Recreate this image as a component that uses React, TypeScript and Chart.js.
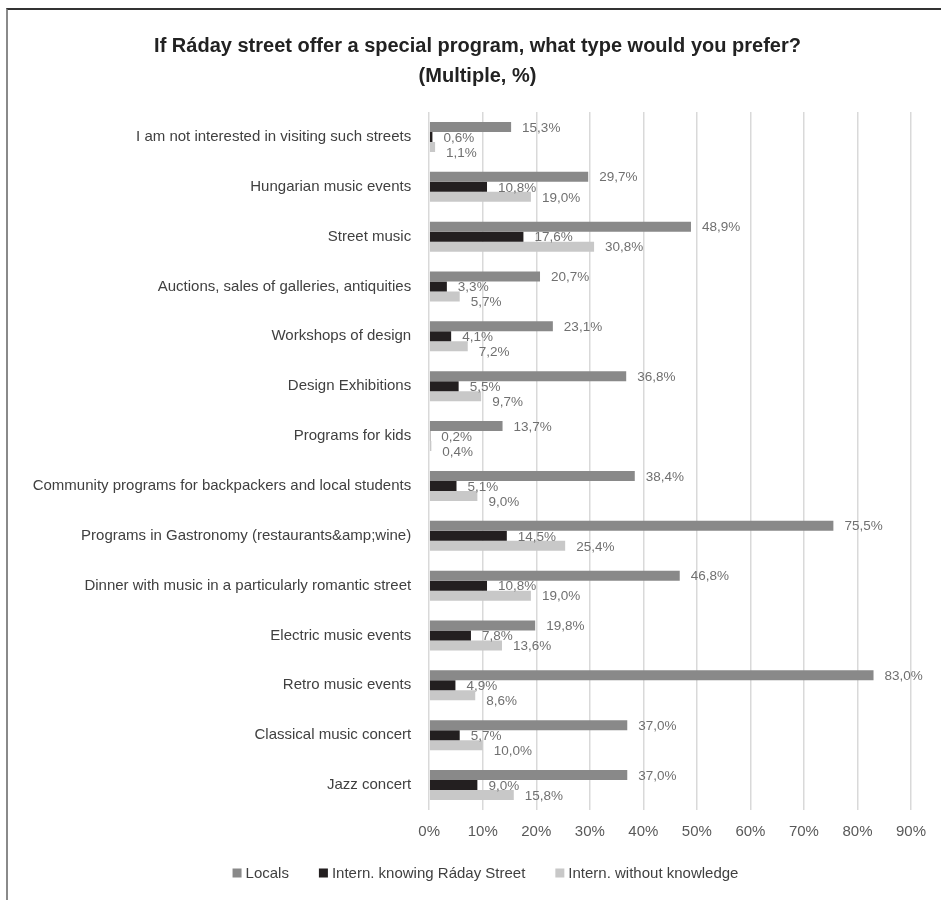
import React, { useEffect, useRef } from 'react';
import { Chart, registerables } from 'chart.js';

Chart.register(...registerables);

const categories = [
  'I am not interested in visiting such streets',
  'Hungarian music events',
  'Street music',
  'Auctions, sales of galleries, antiquities',
  'Workshops of design',
  'Design Exhibitions',
  'Programs for kids',
  'Community programs for backpackers and local students',
  'Programs in Gastronomy (restaurants&amp;wine)',
  'Dinner with music in a particularly romantic street',
  'Electric music events',
  'Retro music events',
  'Classical music concert',
  'Jazz concert',
];

const locals = [15.3, 29.7, 48.9, 20.7, 23.1, 36.8, 13.7, 38.4, 75.5, 46.8, 19.8, 83.0, 37.0, 37.0];
const internKnowing = [0.6, 10.8, 17.6, 3.3, 4.1, 5.5, 0.2, 5.1, 14.5, 10.8, 7.8, 4.9, 5.7, 9.0];
const internWithout = [1.1, 19.0, 30.8, 5.7, 7.2, 9.7, 0.4, 9.0, 25.4, 19.0, 13.6, 8.6, 10.0, 15.8];

const seriesNames = ['Locals', 'Intern. knowing Ráday Street', 'Intern. without knowledge'];
const seriesColors = ['#898989', '#231f20', '#c8c8c8'];

const xMin = 0;
const xMax = 90;
const xStep = 10;

const titleLines = [
  'If Ráday street offer a special program, what type would you prefer?',
  '(Multiple, %)',
];

const FONT = '"Liberation Sans", Arial, Helvetica, sans-serif';
const fmt = (v: number) => v.toFixed(1).replace('.', ',') + '%';

const titlePlugin = {
  id: 'customTitle',
  afterDraw(chart: any) {
    const ctx = chart.ctx;
    ctx.save();
    ctx.font = `bold 20px ${FONT}`;
    ctx.fillStyle = '#222222';
    ctx.textAlign = 'center';
    ctx.textBaseline = 'middle';
    titleLines.forEach((line, i) => {
      ctx.fillText(line, 469.5, 38 + i * 30);
    });
    ctx.restore();
  },
};

const dataLabelPlugin = {
  id: 'dataLabels',
  afterDatasetsDraw(chart: any) {
    const ctx = chart.ctx;
    ctx.save();
    ctx.font = `13.5px ${FONT}`;
    ctx.fillStyle = '#707070';
    ctx.textAlign = 'left';
    ctx.textBaseline = 'middle';
    const n = chart.data.labels.length;
    for (let i = 0; i < n; i++) {
      const placed: { x: number; y: number; w: number }[] = [];
      chart.data.datasets.forEach((ds: any, d: number) => {
        const el = chart.getDatasetMeta(d).data[i];
        const text = fmt(ds.data[i]);
        const w = ctx.measureText(text).width;
        const x = el.x + 11;
        let y = el.y + 1;
        for (const p of placed) {
          if (x < p.x + p.w && p.x < x + w && Math.abs(y - p.y) < 15) {
            y = p.y + 15;
          }
        }
        ctx.fillText(text, x, y);
        placed.push({ x, y, w });
      });
    }
    ctx.restore();
  },
};

const legendPlugin = {
  id: 'customLegend',
  afterDraw(chart: any) {
    const ctx = chart.ctx;
    ctx.save();
    ctx.font = `15px ${FONT}`;
    ctx.textBaseline = 'middle';
    ctx.textAlign = 'left';
    const box = 9;
    const gapText = 4;
    const gapItem = 30;
    const items = chart.data.datasets.map((ds: any) => ({
      label: ds.label,
      color: ds.backgroundColor,
      w: ctx.measureText(ds.label).width,
    }));
    const total =
      items.reduce((s: number, it: any) => s + box + gapText + it.w, 0) + gapItem * (items.length - 1);
    let x = 477.5 - total / 2;
    const y = chart.height - 27;
    for (const it of items) {
      ctx.fillStyle = it.color;
      ctx.fillRect(x, y - box / 2, box, box);
      ctx.fillStyle = '#404040';
      ctx.fillText(it.label, x + box + gapText, y + 0.5);
      x += box + gapText + it.w + gapItem;
    }
    ctx.restore();
  },
};

function BarChart() {
  const ref = useRef<HTMLCanvasElement | null>(null);
  useEffect(() => {
    if (!ref.current) return;
    Chart.defaults.font.family = FONT;
    const chart = new Chart(ref.current, {
      type: 'bar',
      data: {
        labels: categories,
        datasets: [
          { label: seriesNames[0], data: locals, backgroundColor: seriesColors[0] },
          { label: seriesNames[1], data: internKnowing, backgroundColor: seriesColors[1] },
          { label: seriesNames[2], data: internWithout, backgroundColor: seriesColors[2] },
        ],
      },
      options: {
        indexAxis: 'y',
        responsive: false,
        animation: false,
        devicePixelRatio: 1,
        datasets: {
          bar: {
            categoryPercentage: 0.602,
            barPercentage: 1,
            borderWidth: 0,
          },
        },
        layout: {
          padding: { left: 12, right: 30, top: 104, bottom: 46 },
        },
        scales: {
          x: {
            min: xMin,
            max: xMax,
            ticks: {
              stepSize: xStep,
              padding: 13,
              color: '#595959',
              font: { size: 15, family: FONT },
              callback: (v: any) => v + '%',
            },
            grid: { color: '#d9d9d9', lineWidth: 1.5, drawTicks: false },
            border: { display: false },
          },
          y: {
            ticks: {
              padding: 18,
              color: '#404040',
              font: { size: 15, family: FONT },
            },
            grid: { display: false, drawTicks: false },
            border: { display: false },
            afterFit: (scale: any) => {
              scale.width = 409.2;
            },
          },
        },
        plugins: {
          legend: { display: false },
          tooltip: { enabled: false },
          title: { display: false },
        },
      },
      plugins: [dataLabelPlugin, titlePlugin, legendPlugin],
    } as any);
    return () => chart.destroy();
  }, []);
  return (
    <canvas
      ref={ref}
      width={933}
      height={892}
      style={{ position: 'absolute', left: 8, top: 8, width: 933, height: 892 }}
    />
  );
}

export default function App() {
  return (
    <div>
      <div
        style={{
          position: 'absolute',
          left: 6,
          top: 8,
          width: 935,
          height: 892,
          boxSizing: 'border-box',
          borderTop: '2px solid #333333',
          borderLeft: '2px solid #8a8a8a',
        }}
      />
      <BarChart />
    </div>
  );
}
